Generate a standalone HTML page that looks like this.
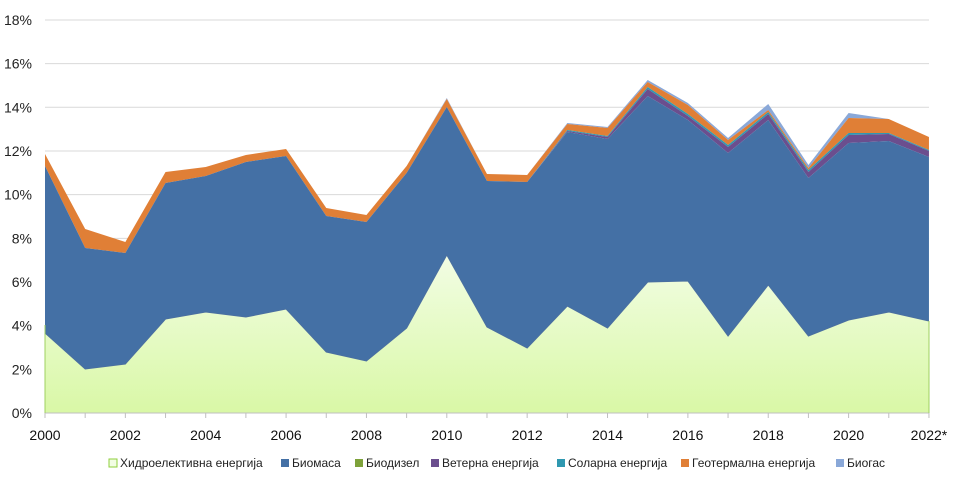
<!DOCTYPE html>
<html><head><meta charset="utf-8"><style>
html,body{margin:0;padding:0;background:#fff;}
svg{display:block;font-family:"Liberation Sans",sans-serif;}
</style></head><body>
<svg id="c" width="960" height="485" viewBox="0 0 960 485" xmlns="http://www.w3.org/2000/svg">
<defs><linearGradient id="hg" x1="0" y1="0" x2="0" y2="1"><stop offset="0" stop-color="#f2fde4"/><stop offset="1" stop-color="#d9f8a6"/></linearGradient></defs>
<g id="grid"></g><g id="areas"></g><g id="axes"></g>
<g font-size="12" fill="#222">
<rect x="109" y="459" width="8" height="8" fill="#f2fde4" stroke="#8fcf3c"/><text x="120" y="467">Хидроелективна енергија</text>
<rect x="281" y="459" width="8" height="8" fill="#4470a5"/><text x="292" y="467">Биомаса</text>
<rect x="355" y="459" width="8" height="8" fill="#7ea23a"/><text x="366" y="467">Биодизел</text>
<rect x="431" y="459" width="8" height="8" fill="#6b4e8e"/><text x="442" y="467">Ветерна енергија</text>
<rect x="557" y="459" width="8" height="8" fill="#2f98b0"/><text x="568" y="467">Соларна енергија</text>
<rect x="681" y="459" width="8" height="8" fill="#e07f36"/><text x="692" y="467">Геотермална енергија</text>
<rect x="836" y="459" width="8" height="8" fill="#8aa8d8"/><text x="847" y="467">Биогас</text>
</g>
</svg>
<script>
const ns="http://www.w3.org/2000/svg";
function el(p,t,a,txt){const e=document.createElementNS(ns,t);for(const k in a)e.setAttribute(k,a[k]);if(txt!=null)e.textContent=txt;document.getElementById(p).appendChild(e);}
const X=i=>45+i*40.18, B=413;
for(let k=0;k<=9;k++){const y=413-k*43.67;el("grid","line",{x1:45,x2:929,y1:y,y2:y,stroke:"#d9d9d9","stroke-width":1});
el("axes","text",{x:32,y:y+5,"text-anchor":"end","font-size":"14",fill:"#222"},(2*k)+"%");}
const hydro=[333,369,364,319,312,317,309,352,361,328,255,327,348,306,328,282,281,336,285,336,320,312,321];
const bio=[166,248,253,183,176,162,156,216,222,173,107,181,182,132,139,96,120,153,120,178,143,141,157];
const wind=[166,248,253,183,176,162,156,216,222,173,107,181,182,131,137,89,116,147,114,172,135,134,151];
const sol=[166,248,253,183,176,162,156,216,222,173,107,181,182,130,136,87,114,145,112,170,133,133,150];
const geo=[154,229,242,172,167,155,149,208,215,166,99,174,175,124,128,82,105,140,110,168,118,119,137];
const bg=[154,229,242,172,167,155,149,208,215,166,98,174,175,123,127,80,103,138,104,165,113,119,137];
function band(top,bot,fill){let d="M"+top.map((y,i)=>X(i)+","+y).join(" L");
for(let i=bot.length-1;i>=0;i--)d+=" L"+X(i)+","+bot[i];el("areas","path",{d:d+"Z",fill:fill});}
const base=hydro.map(()=>B);
band(bg,geo,"#8aa8d8");band(geo,sol,"#e07f36");band(sol,wind,"#2f98b0");band(wind,bio,"#6b4e8e");band(bio,hydro,"#4470a5");band(hydro,base,"url(#hg)");
el("areas","polyline",{points:hydro.map((y,i)=>X(i)+","+y).join(" "),fill:"none",stroke:"#4a6fa0","stroke-width":1});
el("axes","line",{x1:45,x2:929,y1:413,y2:413,stroke:"#bfbfbf"});
el("axes","line",{x1:45,x2:45,y1:413,y2:325,stroke:"#9fd060"});
el("axes","line",{x1:929,x2:929,y1:413,y2:321,stroke:"#9fd060"});
for(let i=0;i<=22;i++){el("axes","line",{x1:X(i),x2:X(i),y1:413,y2:418,stroke:"#bfbfbf"});
if(i%2==0)el("axes","text",{x:X(i),y:440,"text-anchor":"middle","font-size":"14",fill:"#111"},(2000+i)+(i==22?"*":""));}
</script>
</body></html>
